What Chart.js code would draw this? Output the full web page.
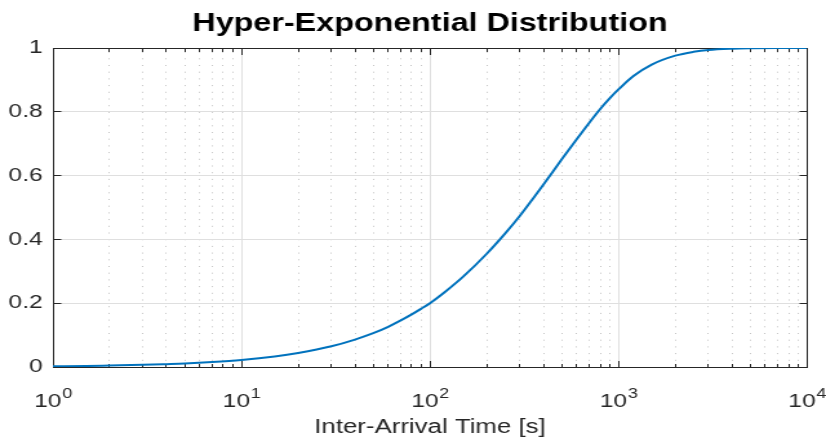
<!DOCTYPE html>
<html>
<head>
<meta charset="utf-8">
<script src="https://cdn.jsdelivr.net/npm/chart.js@4.4.1/dist/chart.umd.min.js"></script>
<style>
  html, body { margin: 0; padding: 0; background: #ffffff; }
  #cdf { display: block; }
</style>
</head>
<body>
<!-- drawn on a 640px-wide surface and shown at 826px wide -->
<canvas id="cdf" width="640" height="445" style="width:826px;height:445px"></canvas>
<script>
const titleText = 'Hyper-Exponential Distribution';
const xAxisTitle = 'Inter-Arrival Time [s]';

// inter-arrival time t [s] and cumulative probability F(t)
const interArrival = [1, 1.5, 2, 3, 4, 5, 7, 10, 15, 20, 30, 40, 50, 60, 70, 80, 90, 100,
  120, 150, 200, 250, 300, 350, 400, 500, 600, 700, 800, 900, 1000, 1200, 1500, 2000,
  2500, 3000, 4000, 5000, 7000, 10000];
const cdfValues = [0.002, 0.003, 0.0045, 0.0067, 0.009, 0.011, 0.0155, 0.022, 0.033, 0.044,
  0.065, 0.086, 0.106, 0.126, 0.146, 0.165, 0.183, 0.200, 0.235, 0.283, 0.355, 0.418,
  0.474, 0.526, 0.572, 0.651, 0.714, 0.766, 0.809, 0.843, 0.870, 0.912, 0.948, 0.976,
  0.988, 0.994, 0.998, 0.9993, 1.000, 1.000];

const xDecades = [1, 10, 100, 1000, 10000];
const xExponents = ['0', '1', '2', '3', '4'];
const yTicks = [0, 0.2, 0.4, 0.6, 0.8, 1];
const yTickLabels = ['0', '0.2', '0.4', '0.6', '0.8', '1'];

const FONT = "'Liberation Sans', Arial, Helvetica, sans-serif";
const AXIS_COLOR = '#262626';

function seg(ctx, x1, y1, x2, y2) {
  ctx.beginPath(); ctx.moveTo(x1, y1); ctx.lineTo(x2, y2); ctx.stroke();
}
const snap = v => Math.round(v - 0.5) + 0.5;

// grid, box and inward ticks, drawn beneath the curve
const axesFrame = {
  id: 'axesFrame',
  beforeDatasetsDraw(chart) {
    const { ctx, chartArea: a, scales: { x, y } } = chart;
    const L = snap(a.left), R = snap(a.right), T = snap(a.top), B = snap(a.bottom);
    ctx.save();
    ctx.lineWidth = 1;

    // minor log grid (dotted)
    ctx.strokeStyle = '#c4c4c4';
    ctx.setLineDash([1, 5.7]);
    for (let d = 0; d < xDecades.length - 1; d++) {
      for (let m = 2; m <= 9; m++) {
        const px = snap(x.getPixelForValue(xDecades[d] * m));
        seg(ctx, px, B, px, T);
      }
    }
    ctx.setLineDash([]);

    // major grid (solid)
    ctx.strokeStyle = '#dfdfdf';
    xDecades.slice(1, -1).forEach(v => {
      const px = snap(x.getPixelForValue(v));
      seg(ctx, px, T, px, B);
    });
    yTicks.slice(1, -1).forEach(v => {
      const py = snap(y.getPixelForValue(v));
      seg(ctx, L, py, R, py);
    });

    // box
    ctx.strokeStyle = AXIS_COLOR;
    ctx.strokeRect(L, T, R - L, B - T);

    // x ticks, bottom and top
    const majorLen = 6.5, minorLen = 3.5;
    for (let d = 0; d < xDecades.length; d++) {
      const px = snap(x.getPixelForValue(xDecades[d]));
      seg(ctx, px, B, px, B - majorLen);
      seg(ctx, px, T, px, T + majorLen);
      if (d < xDecades.length - 1) {
        for (let m = 2; m <= 9; m++) {
          const mx = snap(x.getPixelForValue(xDecades[d] * m));
          seg(ctx, mx, B, mx, B - minorLen);
          seg(ctx, mx, T, mx, T + minorLen);
        }
      }
    }
    // y ticks, left and right
    yTicks.forEach(v => {
      const py = snap(y.getPixelForValue(v));
      seg(ctx, L, py, L + 6, py);
      seg(ctx, R, py, R - 6, py);
    });
    ctx.restore();
  },
  afterDraw(chart) {
    // powers of ten under the log axis
    const { ctx, chartArea: a, scales: { x } } = chart;
    ctx.save();
    ctx.fillStyle = AXIS_COLOR;
    ctx.textBaseline = 'alphabetic';
    ctx.textAlign = 'left';
    const baseFont = `19px ${FONT}`, supFont = `14px ${FONT}`;
    xDecades.forEach((v, i) => {
      ctx.font = baseFont;
      const wBase = ctx.measureText('10').width;
      ctx.font = supFont;
      const wSup = ctx.measureText(xExponents[i]).width;
      const cx = x.getPixelForValue(v);
      const x0 = cx - (wBase + wSup) / 2;
      ctx.font = baseFont;
      ctx.fillText('10', x0, a.bottom + 40);
      ctx.font = supFont;
      ctx.fillText(xExponents[i], x0 + wBase + 0.5, a.bottom + 31);
    });
    ctx.restore();
  }
};

const points = interArrival.map((t, i) => ({ x: t, y: cdfValues[i] }));

new Chart(document.getElementById('cdf'), {
  type: 'line',
  data: {
    datasets: [{
      data: points,
      borderColor: '#0072BD',
      borderWidth: 2,
      pointRadius: 0,
      fill: false,
      cubicInterpolationMode: 'monotone'
    }]
  },
  options: {
    responsive: false,
    animation: false,
    devicePixelRatio: 1,
    layout: { padding: { left: 0, right: 14.7, top: 0, bottom: 0 } },
    plugins: {
      legend: { display: false },
      tooltip: { enabled: false },
      title: {
        display: true,
        fullSize: false,   // centred over the plot area
        text: titleText,
        color: '#000000',
        font: { family: FONT, size: 25, weight: 'bold' },
        padding: { top: 9, bottom: 9 }
      }
    },
    scales: {
      x: {
        type: 'logarithmic',
        min: 1,
        max: 10000,
        afterBuildTicks: s => { s.ticks = xDecades.map(v => ({ value: v, major: true })); },
        afterFit: s => { s.height = 78; },
        grid: { display: false, drawTicks: false },
        border: { display: false },
        ticks: { display: false },
        title: {
          display: true,
          text: xAxisTitle,
          color: AXIS_COLOR,
          font: { family: FONT, size: 20 },
          padding: { top: 0, bottom: 6 }
        }
      },
      y: {
        type: 'linear',
        min: 0,
        max: 1,
        afterBuildTicks: s => { s.ticks = yTicks.map(v => ({ value: v })); },
        afterFit: s => { s.width = 41; },
        grid: { display: false, drawTicks: false },
        border: { display: false },
        ticks: {
          color: AXIS_COLOR,
          font: { family: FONT, size: 19 },
          padding: 8,
          callback: v => yTickLabels[yTicks.indexOf(v)] ?? ''
        }
      }
    }
  },
  plugins: [axesFrame]
});
</script>
</body>
</html>
